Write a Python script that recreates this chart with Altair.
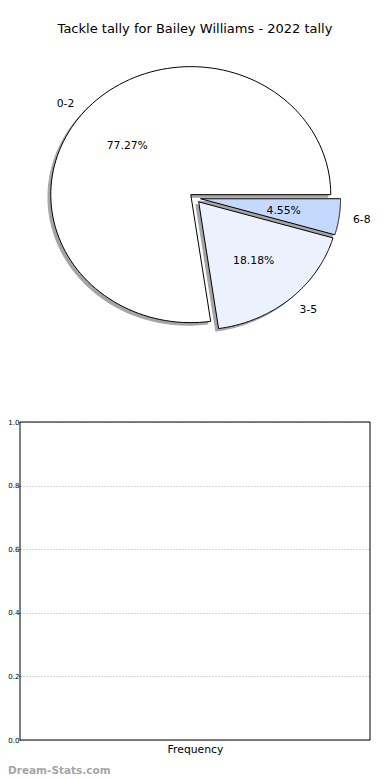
import altair as alt
import pandas as pd

# ---------------- data ----------------
title = "Tackle tally for Bailey Williams - 2022 tally"
labels = ["0-2", "3-5", "6-8"]
counts = [17, 4, 1]
colors = ["#ffffff", "#ebf1fd", "#c5d8fd"]
bar_ylim = [0.0, 1.0]
y_ticks = [0.0, 0.2, 0.4, 0.6, 0.8, 1.0]
x_label = "Frequency"
watermark = "Dream-Stats.com"

# ---------------- style / layout ----------------
EXPLODE = 0.04
LABEL_DIST = 1.1
PCT_DIST = 0.6
SHADOW = 0.02
N = 120                # vertices per wedge arc
W = 350                # plot width (pie axes and bar axes share it)
PIE_H = 320            # pie axes height
BAR_TOP = 384          # bar axes top, from plot top
BAR_H = 318
H = BAR_TOP + BAR_H
PAD = {"left": 12, "top": 30, "right": 12, "bottom": 38}
FONT = "DejaVu Sans"
TXT_DY = 1.5

pie_lo = 1.25 - H / (PIE_H / 2.5)
bar_hi = bar_ylim[1] + BAR_TOP / (BAR_H / (bar_ylim[1] - bar_ylim[0]))

xs = alt.Scale(domain=[-1.25, 1.25], nice=False, zero=False)
ys_pie = alt.Scale(domain=[pie_lo, 1.25], nice=False, zero=False)
ys_bar = alt.Scale(domain=[bar_ylim[0], bar_hi], nice=False, zero=False)
xaxis = alt.Axis(labels=False, ticks=False, domain=False, grid=False,
                 titlePadding=3, titleFontSize=10.8, titleFont=FONT,
                 titleFontWeight="normal", titleColor="black")

pie_df = pd.DataFrame({"label": labels, "count": counts, "idx": list(range(len(labels)))})

base = (
    alt.Chart(pie_df)
    .transform_window(cum="sum(count)", sort=[alt.SortField("idx")], frame=[None, 0])
    .transform_joinaggregate(total="sum(count)")
    .transform_calculate(a0="2*PI*(datum.cum - datum.count)/datum.total")
    .transform_calculate(a1="2*PI*datum.cum/datum.total")
    .transform_calculate(mid="(datum.a0 + datum.a1)/2")
    .transform_calculate(pct="format(100*datum.count/datum.total, '.2f') + '%'")
    .transform_calculate(cx=f"{EXPLODE}*cos(datum.mid)")
    .transform_calculate(cy=f"{EXPLODE}*sin(datum.mid)")
)

poly = (
    base.transform_calculate(k=f"sequence(-1, {N + 2})")
    .transform_flatten(["k"])
    .transform_calculate(t=f"datum.a0 + (datum.a1 - datum.a0)*clamp(datum.k, 0, {N})/{N}")
    .transform_calculate(px=f"(datum.k < 0 || datum.k > {N}) ? datum.cx : datum.cx + cos(datum.t)")
    .transform_calculate(py=f"(datum.k < 0 || datum.k > {N}) ? datum.cy : datum.cy + sin(datum.t)")
    .transform_calculate(sx=f"datum.px - {SHADOW}", sy=f"datum.py - {SHADOW}")
)

shadows = poly.mark_line(filled=True, fill="#4d4d4d", stroke="#4d4d4d",
                         strokeWidth=1, opacity=0.5).encode(
    x=alt.X("sx:Q", scale=xs, axis=xaxis, title=x_label),
    y=alt.Y("sy:Q", scale=ys_pie, axis=None),
    order=alt.Order("k:Q"),
    detail="label:N",
)

wedges = poly.mark_line(filled=True, stroke="black", strokeWidth=1).encode(
    x=alt.X("px:Q", scale=xs, axis=xaxis, title=x_label),
    y=alt.Y("py:Q", scale=ys_pie, axis=None),
    color=alt.Color("label:N", scale=alt.Scale(domain=labels, range=colors), legend=None),
    order=alt.Order("k:Q"),
    detail="label:N",
)

lab = (
    base.transform_calculate(lx=f"datum.cx + {LABEL_DIST}*cos(datum.mid)")
    .transform_calculate(ly=f"datum.cy + {LABEL_DIST}*sin(datum.mid)")
    .transform_calculate(left="cos(datum.mid) < 0")
)
lab_left = lab.transform_filter("datum.left").mark_text(
    align="right", baseline="middle", dy=TXT_DY, font=FONT, fontSize=10.8, color="black").encode(
    x=alt.X("lx:Q", scale=xs, axis=xaxis, title=x_label),
    y=alt.Y("ly:Q", scale=ys_pie, axis=None),
    text="label:N",
)
lab_right = lab.transform_filter("!datum.left").mark_text(
    align="left", baseline="middle", dy=TXT_DY, font=FONT, fontSize=10.8, color="black").encode(
    x=alt.X("lx:Q", scale=xs, axis=xaxis, title=x_label),
    y=alt.Y("ly:Q", scale=ys_pie, axis=None),
    text="label:N",
)

pct = (
    base.transform_calculate(tx=f"datum.cx + {PCT_DIST}*cos(datum.mid)")
    .transform_calculate(ty=f"datum.cy + {PCT_DIST}*sin(datum.mid)")
    .mark_text(align="center", baseline="middle", dy=TXT_DY, font=FONT, fontSize=10.8, color="black")
    .encode(
        x=alt.X("tx:Q", scale=xs, axis=xaxis, title=x_label),
        y=alt.Y("ty:Q", scale=ys_pie, axis=None),
        text="pct:N",
    )
)

frame_df = pd.DataFrame({"y0": [bar_ylim[0]], "y1": [bar_ylim[1]]})
frame = alt.Chart(frame_df).mark_rect(fill="transparent", stroke="black", strokeWidth=1).encode(
    x=alt.value(0),
    x2=alt.value(W),
    y=alt.Y("y0:Q", scale=ys_bar, title="",
            axis=alt.Axis(values=y_ticks, format=".1f", grid=True, gridColor="#b0b0b0",
                          gridDash=[1, 2], gridWidth=1, domain=False, tickSize=1,
                          tickColor="#555555", labelFontSize=7, labelFont=FONT,
                          labelColor="black", labelPadding=0)),
    y2="y1:Q",
)

wm_df = pd.DataFrame({"t": [watermark]})
wm = alt.Chart(wm_df).mark_text(align="left", baseline="alphabetic", font=FONT,
                                fontSize=10.5, fontWeight="bold", color="#a6a6a6").encode(
    x=alt.value(-PAD["left"]),
    y=alt.value(H + 34),
    text="t:N",
)

chart = (
    alt.layer(shadows, wedges, lab_left, lab_right, pct, frame, wm)
    .resolve_scale(y="independent")
    .properties(
        width=W, height=H, padding=PAD,
        autosize=alt.AutoSizeParams(type="none"),
        title=alt.TitleParams(title, font=FONT, fontSize=13, fontWeight="normal",
                              color="black", anchor="middle", offset=2),
    )
    .configure_view(strokeWidth=0)
)

chart.save("out.html", embed_options={"renderer": "svg", "actions": False})
